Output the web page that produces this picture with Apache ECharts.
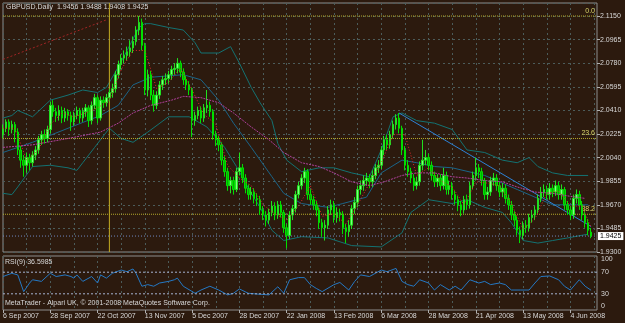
<!DOCTYPE html>
<html lang="en">
<head>
<meta charset="UTF-8">
<title>GBPUSD,Daily</title>
<script src="https://cdn.jsdelivr.net/npm/echarts@6/dist/echarts.min.js"></script>
<style>
html, body { margin: 0; padding: 0; background: #2c1a0e; }
#chart { width: 625px; height: 323px; }
</style>
</head>
<body>
<div id="chart"></div>
<script>
// price ticks on the right axis (every 0.0185)
var priceTicks = [1.9300, 1.9485, 1.9670, 1.9855, 2.0040, 2.0225, 2.0410, 2.0595, 2.0780, 2.0965, 2.1150];
// one date label every 16 bars
var dateTicks = ['6 Sep 2007', '28 Sep 2007', '22 Oct 2007', '13 Nov 2007', '5 Dec 2007', '28 Dec 2007',
    '22 Jan 2008', '13 Feb 2008', '6 Mar 2008', '28 Mar 2008', '21 Apr 2008', '13 May 2008', '4 Jun 2008'];
var rsiTicks = [0, 30, 70, 100];

// daily bars: [open, close, low, high]
var ohlc = [
    [2.022,2.027,2.019,2.030],[2.027,2.032,2.024,2.034],[2.032,2.026,2.021,2.034],[2.026,2.030,2.023,2.033],[2.030,2.024,2.016,2.032],
    [2.024,2.010,2.006,2.027],[2.010,2.002,1.996,2.013],[2.002,1.998,1.989,2.006],[1.998,2.004,1.992,2.008],[2.004,2.000,1.994,2.007],
    [2.000,2.006,1.997,2.009],[2.006,2.010,2.002,2.013],[2.010,2.018,2.007,2.021],[2.018,2.022,2.014,2.025],[2.022,2.019,2.015,2.026],
    [2.019,2.026,2.016,2.029],[2.026,2.045,2.023,2.048],[2.045,2.040,2.036,2.049],[2.040,2.037,2.032,2.043],[2.037,2.041,2.033,2.045],
    [2.041,2.035,2.031,2.044],[2.035,2.040,2.032,2.043],[2.040,2.037,2.033,2.042],[2.037,2.032,2.025,2.040],[2.032,2.037,2.029,2.040],
    [2.037,2.041,2.034,2.044],[2.041,2.035,2.031,2.043],[2.035,2.040,2.032,2.043],[2.040,2.043,2.036,2.046],[2.043,2.033,2.028,2.045],
    [2.033,2.045,2.030,2.048],[2.045,2.051,2.042,2.054],[2.051,2.035,2.031,2.053],[2.035,2.049,2.033,2.052],[2.049,2.047,2.043,2.052],
    [2.047,2.051,2.044,2.054],[2.051,2.055,2.048,2.058],[2.055,2.058,2.051,2.062],[2.058,2.069,2.055,2.072],[2.069,2.077,2.066,2.080],
    [2.077,2.082,2.073,2.085],[2.082,2.084,2.078,2.088],[2.084,2.087,2.080,2.091],[2.087,2.090,2.083,2.096],[2.090,2.095,2.086,2.099],
    [2.095,2.104,2.092,2.107],[2.104,2.110,2.100,2.115],[2.110,2.092,2.088,2.113],[2.092,2.057,2.053,2.094],[2.057,2.069,2.052,2.073],
    [2.069,2.053,2.049,2.072],[2.053,2.045,2.040,2.057],[2.045,2.053,2.042,2.056],[2.053,2.061,2.050,2.064],[2.061,2.065,2.057,2.068],
    [2.065,2.066,2.061,2.070],[2.066,2.069,2.062,2.072],[2.069,2.073,2.065,2.076],[2.073,2.074,2.069,2.078],[2.074,2.078,2.070,2.082],
    [2.078,2.071,2.067,2.080],[2.071,2.065,2.061,2.074],[2.065,2.061,2.057,2.068],[2.061,2.057,2.053,2.064],[2.057,2.033,2.020,2.059],
    [2.033,2.037,2.029,2.040],[2.037,2.041,2.034,2.044],[2.041,2.035,2.031,2.044],[2.035,2.043,2.032,2.046],[2.043,2.045,2.039,2.057],
    [2.045,2.040,2.036,2.048],[2.040,2.022,2.018,2.042],[2.022,2.018,2.013,2.025],[2.018,2.014,2.009,2.021],[2.014,2.002,1.998,2.016],
    [2.002,1.993,1.989,2.005],[1.993,1.982,1.978,1.996],[1.982,1.986,1.976,1.989],[1.986,1.979,1.975,1.989],[1.979,1.993,1.977,1.996],
    [1.993,1.996,1.990,2.008],[1.996,1.988,1.984,1.999],[1.988,1.980,1.976,1.991],[1.980,1.975,1.971,1.983],[1.975,1.977,1.971,1.981],
    [1.977,1.972,1.968,1.980],[1.972,1.971,1.966,1.976],[1.971,1.963,1.959,1.974],[1.963,1.959,1.955,1.966],[1.959,1.955,1.950,1.962],
    [1.955,1.961,1.952,1.964],[1.961,1.966,1.958,1.970],[1.966,1.959,1.955,1.969],[1.959,1.967,1.956,1.970],[1.967,1.961,1.957,1.970],
    [1.961,1.949,1.945,1.963],[1.949,1.943,1.933,1.952],[1.943,1.959,1.940,1.962],[1.959,1.964,1.955,1.967],[1.964,1.975,1.961,1.978],
    [1.975,1.982,1.972,1.985],[1.982,1.988,1.979,1.991],[1.988,1.993,1.984,1.996],[1.993,1.975,1.971,1.995],[1.975,1.971,1.967,1.979],
    [1.971,1.967,1.963,1.974],[1.967,1.963,1.958,1.970],[1.963,1.953,1.948,1.965],[1.953,1.949,1.942,1.956],[1.949,1.951,1.939,1.955],
    [1.951,1.963,1.948,1.966],[1.963,1.967,1.959,1.971],[1.967,1.957,1.953,1.970],[1.957,1.961,1.953,1.965],[1.961,1.959,1.954,1.964],
    [1.959,1.949,1.944,1.962],[1.949,1.946,1.937,1.952],[1.946,1.951,1.942,1.955],[1.951,1.964,1.948,1.967],[1.964,1.969,1.960,1.973],
    [1.969,1.979,1.965,1.982],[1.979,1.982,1.975,1.986],[1.982,1.986,1.978,1.990],[1.986,1.988,1.982,1.992],[1.988,1.985,1.980,1.991],
    [1.985,1.990,1.981,1.994],[1.990,1.996,1.987,1.999],[1.996,1.998,1.992,2.002],[1.998,2.010,1.995,2.013],[2.010,2.018,2.006,2.021],
    [2.018,2.014,2.010,2.022],[2.014,2.022,2.011,2.025],[2.022,2.030,2.019,2.033],[2.030,2.035,2.026,2.038],[2.035,2.027,2.023,2.039],
    [2.027,2.010,2.006,2.029],[2.010,1.998,1.994,2.013],[1.998,1.993,1.989,2.002],[1.993,1.988,1.984,1.996],[1.988,1.982,1.978,1.991],
    [1.982,1.985,1.979,1.989],[1.985,1.998,1.982,2.001],[1.998,2.002,1.994,2.018],[2.002,2.004,1.998,2.010],[2.004,1.998,1.994,2.007],
    [1.998,1.990,1.986,2.001],[1.990,1.985,1.981,1.993],[1.985,1.988,1.981,1.991],[1.988,1.982,1.978,1.991],[1.982,1.990,1.979,1.996],
    [1.990,1.979,1.975,1.993],[1.979,1.982,1.975,1.986],[1.982,1.975,1.971,1.985],[1.975,1.971,1.967,1.978],[1.971,1.967,1.962,1.974],
    [1.967,1.963,1.958,1.970],[1.963,1.971,1.960,1.974],[1.971,1.967,1.963,1.975],[1.967,1.982,1.964,1.985],[1.982,1.990,1.979,1.993],
    [1.990,1.996,1.986,2.004],[1.996,1.993,1.988,1.999],[1.993,1.986,1.982,1.996],[1.986,1.975,1.971,1.988],[1.975,1.977,1.971,1.981],
    [1.977,1.986,1.974,1.989],[1.986,1.988,1.982,1.992],[1.988,1.982,1.978,1.991],[1.982,1.977,1.973,1.985],[1.977,1.980,1.973,1.984],
    [1.980,1.972,1.968,1.983],[1.972,1.967,1.963,1.975],[1.967,1.959,1.955,1.970],[1.959,1.955,1.950,1.962],[1.955,1.947,1.943,1.958],
    [1.947,1.943,1.937,1.950],[1.943,1.951,1.940,1.954],[1.951,1.949,1.945,1.955],[1.949,1.957,1.946,1.960],[1.957,1.959,1.953,1.963],
    [1.959,1.963,1.955,1.966],[1.963,1.972,1.960,1.975],[1.972,1.977,1.969,1.981],[1.977,1.979,1.973,1.983],[1.979,1.975,1.971,1.982],
    [1.975,1.980,1.971,1.984],[1.980,1.977,1.973,1.983],[1.977,1.982,1.974,1.986],[1.982,1.975,1.971,1.985],[1.975,1.979,1.971,1.983],
    [1.979,1.967,1.963,1.981],[1.967,1.963,1.959,1.970],[1.963,1.959,1.955,1.966],[1.959,1.972,1.956,1.975],[1.972,1.975,1.968,1.979],
    [1.975,1.967,1.963,1.978],[1.967,1.959,1.955,1.970],[1.959,1.953,1.949,1.962],[1.953,1.947,1.943,1.956],[1.9456,1.9425,1.9408,1.9488]
];

// indicator lines: [bar, price]
var bandUpper = [[0,2.035],[3,2.037],[5,2.041],[10,2.036],[16,2.049],[22,2.053],[27,2.057],[32,2.055],[35,2.059],[39,2.075],
    [42,2.088],[46,2.106],[48,2.109],[50,2.109],[56,2.106],[61,2.104],[65,2.094],[67,2.086],[73,2.086],[77,2.091],[80,2.078],
    [84,2.059],[87,2.047],[91,2.033],[93,2.015],[96,2.002],[101,1.993],[107,1.996],[112,1.996],[118,1.992],[124,1.989],[128,2.010],
    [132,2.036],[135,2.039],[140,2.033],[146,2.031],[152,2.026],[157,2.010],[163,2.008],[169,2.002],[174,2.000],[178,2.004],
    [181,1.997],[186,1.992],[191,1.990],[198,1.990]];
var bandLower = [[0,1.976],[3,1.975],[5,1.981],[10,1.997],[16,1.998],[22,1.996],[25,1.994],[27,2.000],[31,2.012],[36,2.027],
    [40,2.019],[44,2.016],[49,2.024],[56,2.036],[63,2.036],[69,2.028],[75,2.012],[79,1.997],[84,1.976],[87,1.965],[91,1.947],
    [95,1.939],[101,1.942],[110,1.941],[118,1.935],[128,1.934],[135,1.945],[138,1.961],[144,1.971],[152,1.968],[157,1.971],
    [163,1.965],[169,1.961],[172,1.953],[176,1.939],[181,1.937],[186,1.939],[191,1.941],[198,1.944]];
var bandMiddle = [[0,2.008],[10,2.016],[22,2.027],[33,2.037],[39,2.045],[44,2.061],[50,2.067],[61,2.069],[67,2.065],[73,2.049],
    [78,2.031],[84,2.012],[91,1.989],[95,1.976],[101,1.968],[110,1.965],[115,1.968],[123,1.973],[128,1.992],[135,2.002],
    [140,2.000],[146,1.997],[152,1.996],[163,1.990],[174,1.979],[186,1.967],[198,1.967]];
var slowMa = [[0,2.012],[10,2.014],[22,2.019],[33,2.024],[39,2.031],[44,2.039],[50,2.045],[57,2.049],[61,2.052],[67,2.051],
    [73,2.047],[78,2.039],[84,2.028],[90,2.018],[95,2.008],[101,2.000],[107,1.997],[112,1.992],[118,1.985],[124,1.982],[129,1.985],
    [135,1.990],[140,1.992],[146,1.992],[152,1.989],[157,1.988],[163,1.986],[169,1.985],[174,1.981],[180,1.977],[186,1.976],
    [191,1.974],[197,1.972]];
var fastMa = [[0,2.027],[4,2.027],[8,2.002],[12,2.010],[16,2.030],[20,2.039],[24,2.036],[28,2.039],[32,2.043],[36,2.049],
    [40,2.073],[44,2.088],[48,2.088],[52,2.058],[56,2.063],[60,2.074],[64,2.057],[68,2.038],[72,2.030],[76,1.998],[80,1.988],
    [84,1.982],[88,1.967],[92,1.960],[96,1.955],[100,1.966],[104,1.982],[108,1.958],[112,1.960],[116,1.952],[120,1.967],
    [124,1.984],[128,2.000],[132,2.022],[136,2.022],[140,1.990],[144,1.996],[148,1.986],[152,1.981],[156,1.967],[160,1.985],
    [164,1.984],[168,1.982],[172,1.968],[176,1.948],[180,1.956],[184,1.976],[188,1.978],[192,1.966],[196,1.966],[199,1.949]];
var trendLine = [[134,2.039],[199,1.950]];
var fibTrend = [[0,2.081],[35,2.112]];
var fibLevels = [['0.0', 2.1150], ['23.6', 2.0190], ['38.2', 1.9596]];
var bidPrice = 1.9425;
var markerBar = 36;

var rsi = [[0,62],[3,68],[5,65],[7,34],[9,50],[10,56],[13,53],[16,68],[18,62],[21,65],[23,62],[24,59],[25,65],[27,53],
    [30,62],[32,50],[33,65],[35,59],[37,68],[40,74],[42,71],[44,76],[45,68],[47,44],[49,47],[51,44],[53,50],[56,53],[58,56],
    [59,59],[61,44],[65,31],[67,37],[70,44],[73,37],[76,28],[78,31],[80,39],[83,31],[85,30],[90,28],[93,43],[95,31],[97,56],
    [100,60],[102,60],[104,47],[106,40],[108,34],[112,47],[114,51],[117,37],[119,53],[121,65],[124,62],[128,74],[130,71],
    [133,77],[135,53],[137,47],[139,44],[141,56],[144,50],[146,37],[148,47],[151,37],[153,44],[155,37],[158,56],[161,50],
    [163,53],[165,47],[168,50],[170,47],[172,37],[175,37],[178,37],[180,50],[182,62],[185,63],[188,56],[190,44],[192,37],
    [195,56],[197,44],[199,36.5985]];

var categories = [];
for (var i = 0; i < 202; i++) categories.push(String(i));
var lastIdx = categories.length - 1;

var font = 'Liberation Sans';
var txt = '#d8d8d8';
var gridLine = {color: '#4c5c5a', type: [2, 3], width: 1};
function every8(i) { return i % 8 === 0; }
function every16(i) { return i % 16 === 0; }

var last = ohlc[ohlc.length - 1];
var header = 'GBPUSD,Daily  ' + [last[0], last[3], last[2], last[1]].map(function (v) { return v.toFixed(4); }).join(' ');

function simpleLine(data, color, type, z) {
    return {
        type: 'line', xAxisIndex: 0, yAxisIndex: 0, data: data, showSymbol: false, silent: true, z: z,
        lineStyle: {color: color, width: 1, type: type}
    };
}

var series = [
    simpleLine(bandUpper, '#137272', 'solid', 3),
    simpleLine(bandLower, '#137272', 'solid', 3),
    simpleLine(bandMiddle, '#1a6488', 'solid', 3),
    simpleLine(trendLine, '#2c82d6', 'solid', 3),
    simpleLine(fibTrend, '#a02424', [2, 2], 3)
];

// fibonacci levels across the whole chart, labelled at the right end
fibLevels.forEach(function (f) {
    var s = simpleLine([[0, f[1]], [lastIdx, f[1]]], '#b4aa2c', [1, 1], 3);
    s.endLabel = {show: true, formatter: f[0], color: '#d8d46a', fontSize: 7, fontFamily: font,
        align: 'right', distance: 0, offset: [-2, -5]};
    series.push(s);
});
// vertical marker line
series.push(simpleLine([[markerBar, 1.93], [markerBar, 2.1252]], '#c4ac22', 'solid', 3));
// bid line with its price box
var bid = simpleLine([[0, bidPrice], [lastIdx, bidPrice]], '#6f88c0', [1, 2], 3);
bid.endLabel = {show: true, formatter: bidPrice.toFixed(4), backgroundColor: '#ffffff', color: '#000000',
    fontSize: 7, fontFamily: font, padding: [1, 2, 0, 2], distance: 1};
series.push(bid);

series.push({
    type: 'candlestick', xAxisIndex: 0, yAxisIndex: 0, data: ohlc, barWidth: 2, z: 4, silent: true,
    itemStyle: {color: '#80ff80', color0: '#00b000', borderColor: '#20e020', borderColor0: '#00e000', borderWidth: 1}
});
series.push(simpleLine(slowMa, '#b0409c', [2, 1], 5));
series.push(simpleLine(fastMa, '#e02a2a', [1, 2], 5));
series.push({
    type: 'line', xAxisIndex: 1, yAxisIndex: 2, data: rsi, showSymbol: false, silent: true,
    lineStyle: {color: '#2478c4', width: 1}
});
// RSI 70 / 30 levels
[70, 30].forEach(function (lv) {
    series.push({
        type: 'line', xAxisIndex: 1, yAxisIndex: 2, data: [[0, lv], [lastIdx, lv]], showSymbol: false, silent: true,
        lineStyle: {color: '#a6b2d0', width: 1, type: [2, 2]}
    });
});

var chart = echarts.init(document.getElementById('chart'));
chart.setOption({
    backgroundColor: '#2c1a0e',
    animation: false,
    textStyle: {fontFamily: font, fontSize: 7},
    grid: [
        {left: 3, top: 3, width: 594, height: 249, show: true, borderColor: '#8c8c8c', borderWidth: 1},
        {left: 3, top: 256, width: 594, height: 54, show: true, borderColor: '#8c8c8c', borderWidth: 1}
    ],
    xAxis: [
        {type: 'category', gridIndex: 0, data: categories, boundaryGap: false,
            axisLine: {show: false}, axisTick: {show: false}, axisLabel: {show: false},
            splitLine: {show: true, interval: every8, lineStyle: gridLine}},
        {type: 'category', gridIndex: 1, data: categories, boundaryGap: false,
            axisLine: {show: false},
            axisTick: {show: true, interval: every16, length: 3, lineStyle: {color: '#b0b0b0'}},
            axisLabel: {interval: every16, align: 'left', margin: 3, color: txt, fontSize: 7, fontFamily: font,
                formatter: function (v) { return dateTicks[Number(v) / 16] || ''; }},
            splitLine: {show: true, interval: every8, lineStyle: gridLine}}
    ],
    yAxis: [
        {type: 'value', gridIndex: 0, min: 1.93, max: 2.1252, show: false},
        {type: 'value', gridIndex: 0, min: 0, max: 10.5514, interval: 1, position: 'right',
            axisLine: {show: false},
            axisTick: {show: true, length: 3, lineStyle: {color: '#b0b0b0'}},
            axisLabel: {margin: 3, color: txt, fontSize: 7, fontFamily: font, showMaxLabel: false,
                formatter: function (v) {
                    var k = Math.round(v);
                    return (Math.abs(v - k) < 1e-6 && priceTicks[k] !== undefined) ? priceTicks[k].toFixed(4) : '';
                }},
            splitLine: {show: true, lineStyle: gridLine}},
        {type: 'value', gridIndex: 1, min: 0, max: 100, interval: 10, position: 'right',
            axisLine: {show: false}, axisTick: {show: false}, splitLine: {show: false},
            axisLabel: {margin: 4, color: txt, fontSize: 7, fontFamily: font,
                formatter: function (v) {
                    if (rsiTicks.indexOf(v) < 0) return '';
                    if (v === 100) return '{t|100}';
                    if (v === 0) return '{b|0}';
                    return String(v);
                },
                rich: {t: {padding: [7, 0, 0, 0], fontSize: 7, color: txt}, b: {padding: [0, 0, 7, 0], fontSize: 7, color: txt}}}}
    ],
    graphic: [
        {type: 'text', left: 6, top: 4, z: 100, style: {text: header, fill: txt, font: '7px "' + font + '"'}},
        {type: 'text', left: 5, top: 259, z: 100, style: {text: 'RSI(9) ' + rsi[rsi.length - 1][1].toFixed(4), fill: txt, font: '7px "' + font + '"'}},
        {type: 'text', left: 5, top: 300, z: 100, style: {text: 'MetaTrader - Alpari UK, \u00a9 2001-2008 MetaQuotes Software Corp.', fill: txt, font: '7px "' + font + '"'}}
    ],
    series: series
});
</script>
</body>
</html>
